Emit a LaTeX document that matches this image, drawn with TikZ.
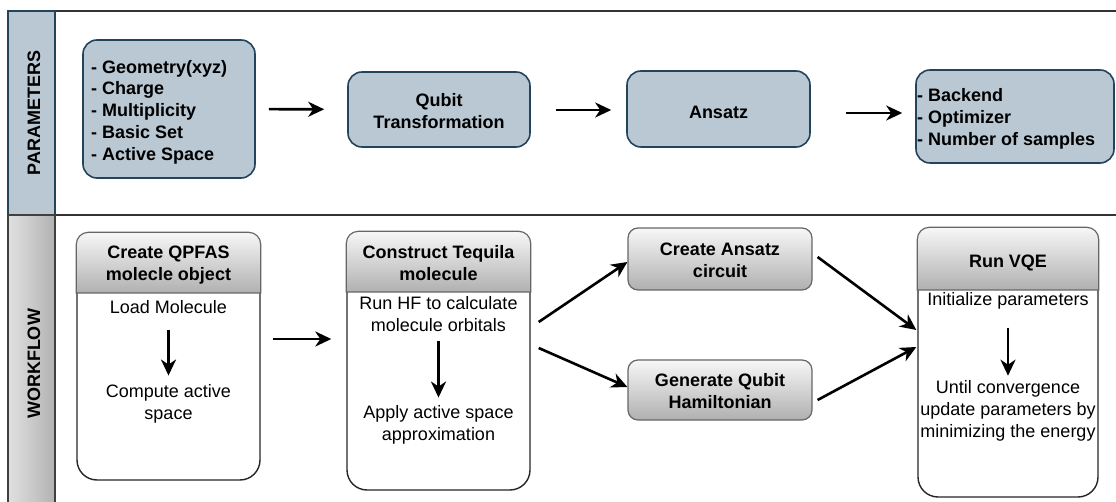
\documentclass[tikz,border=0pt]{standalone}
\usepackage{fontspec}
\setmainfont{Liberation Sans}
\usetikzlibrary{arrows.meta}
\definecolor{pfill}{HTML}{BAC8D3}
\definecolor{pdraw}{HTML}{23445D}
\definecolor{hdtop}{HTML}{F7F7F7}
\definecolor{hdbot}{HTML}{B0B0B0}
\definecolor{hddraw}{HTML}{666666}
\newcommand{\fsz}{\fontsize{18}{21.7}\selectfont}
\begin{document}
\begin{tikzpicture}[x=1pt,y=-1pt,
  panel/.style={draw=black!80, line width=2pt},
  pstripe/.style={draw=pdraw, fill=pfill, line width=1.6pt},
  wstripe/.style={draw=black!75, left color=black!12, right color=black!30, line width=1.6pt},
  pbox/.style={draw=pdraw, fill=pfill, line width=1.6pt, rounded corners=14pt, inner sep=0pt},
  ptext/.style={font=\fsz\bfseries, align=center, inner sep=0pt},
  wbox/.style={draw=black!85, fill=white, line width=1.4pt, rounded corners=20pt, inner sep=0pt},
  gbox/.style={draw=hddraw, top color=hdtop, bottom color=hdbot, line width=1.2pt, rounded corners=10pt, inner sep=0pt},
  htext/.style={font=\fsz\bfseries, align=center, inner sep=0pt},
  btext/.style={font=\fsz, align=center, inner sep=0pt},
  arr/.style={line width=2.6pt, -{Stealth[length=16pt,width=15pt,inset=5pt]}},
  lab/.style={font=\fsz\bfseries, rotate=90, inner sep=0pt}
]
\useasboundingbox (0,0) rectangle (1116,502);
\clip (0,0) rectangle (1116,502);

% panels
\draw[panel] (8,11) rectangle (1130,215);
\draw[panel] (8,215) rectangle (1130,520);
\draw[pstripe] (8,11) rectangle (55,215);
\draw[wstripe] (8,215) rectangle (55,520);
\node[lab] (lp) at (34,113) {PARAMETERS};
\node[lab] (lw) at (34,364) {WORKFLOW};

% parameter boxes
\node[pbox, minimum width=172, minimum height=138] (par) at (169,109) {};
\node[ptext, anchor=west, align=left] (partx) at (91,112) {- Geometry(xyz)\\- Charge\\- Multiplicity\\- Basic Set\\- Active Space};
\node[pbox, minimum width=182, minimum height=75] (qt) at (439,109.5) {};
\node[ptext] (qttx) at (439,111) {Qubit\\Transformation};
\node[pbox, minimum width=183, minimum height=76] (an) at (718.5,109) {};
\node[ptext] (antx) at (718.5,112) {Ansatz};
\node[pbox, minimum width=198, minimum height=93] (be) at (1015,116.5) {};
\node[ptext, anchor=west, align=left] (betx) at (917,119) {- Backend\\- Optimizer\\- Number of samples};

\draw[arr, shorten <=13pt, shorten >=23pt] (par) -- (qt);
\draw[arr] ([shift={(25,0.5)}]qt.east) -- ([shift={(-15,1)}]an.west);
\draw[arr] ([shift={(35,4)}]an.east) -- ([shift={(-13,-3.5)}]be.west);

% workflow boxes
\node[wbox, minimum width=183, minimum height=247] (qp) at (168.5,356.5) {};
\path[draw=hddraw, line width=1.2pt, top color=hdtop, bottom color=hdbot]
  (qp.west |- 0,293) [rounded corners=12pt]-- (qp.north west) -- (qp.north east) [sharp corners]-- (qp.east |- 0,293) -- cycle;
\node[htext] (qph) at (168.5,265) {Create QPFAS\\molecle object};
\node[btext] (load) at (168.5,307) {Load Molecule};
\node[btext] (comp) at (168.5,404) {Compute active\\space};
\draw[arr, shorten <=16pt, shorten >=9pt] (load) -- (comp);

\node[wbox, minimum width=183, minimum height=258] (tq) at (438.5,361) {};
\path[draw=hddraw, line width=1.2pt, top color=hdtop, bottom color=hdbot]
  (tq.west |- 0,292) [rounded corners=12pt]-- (tq.north west) -- (tq.north east) [sharp corners]-- (tq.east |- 0,292) -- cycle;
\node[htext] (tqh) at (438.5,263) {Construct Tequila\\molecule};
\node[btext] (hf) at (438.5,314) {Run HF to calculate\\molecule orbitals};
\node[btext] (apply) at (438.5,425) {Apply active space\\approximation};
\draw[arr, shorten <=9pt, shorten >=8pt] (hf) -- (apply);

\node[gbox, minimum width=184, minimum height=62] (ac) at (720,259) {};
\node[htext] (actx) at (720,260) {Create Ansatz\\circuit};
\node[gbox, minimum width=184, minimum height=60] (ham) at (720,390) {};
\node[htext] (hamtx) at (720,391) {Generate Qubit\\Hamiltonian};

\node[wbox, minimum width=180, minimum height=269] (vqe) at (1008,362.5) {};
\path[draw=hddraw, line width=1.2pt, top color=hdtop, bottom color=hdbot]
  (vqe.west |- 0,290) [rounded corners=12pt]-- (vqe.north west) -- (vqe.north east) [sharp corners]-- (vqe.east |- 0,290) -- cycle;
\node[htext] (vqeh) at (1008,263) {Run VQE};
\node[btext] (init) at (1008,301) {Initialize parameters};
\node[btext] (until) at (1008,411) {Until convergence\\update parameters by\\minimizing the energy};
\draw[arr, shorten <=18pt, shorten >=5pt] (init) -- (until);

% workflow arrows
\draw[arr] ([shift={(12,-17.5)}]qp.east) -- ([shift={(-15,-22)}]tq.west);
\draw[arr] ([shift={(8,-39)}]tq.east) -- ([shift={(0,3)}]ac.west);
\draw[arr] ([shift={(8,-13)}]tq.east) -- ([shift={(0,-3)}]ham.west);
\draw[arr] ([shift={(5,-2)}]ac.east) -- ([shift={(-1,-32.5)}]vqe.west);
\draw[arr] ([shift={(5,10)}]ham.east) -- ([shift={(-1,-15.5)}]vqe.west);
\end{tikzpicture}
\end{document}
